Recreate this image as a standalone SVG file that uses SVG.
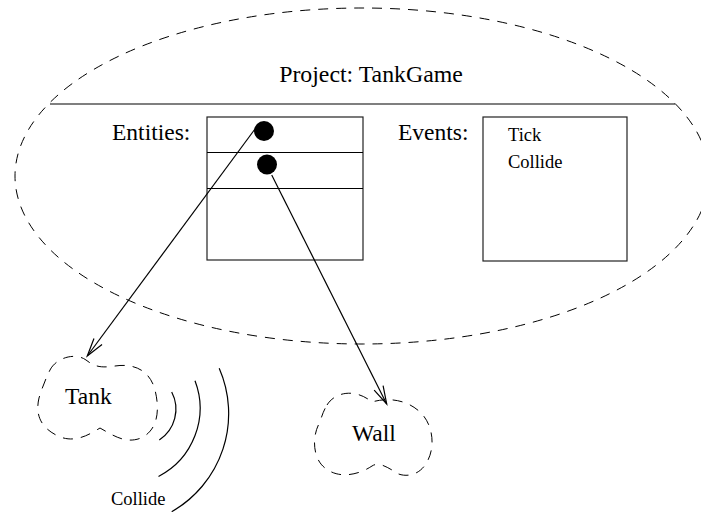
<svg xmlns="http://www.w3.org/2000/svg" width="701" height="512" viewBox="0 0 701 512">
  <style>
    .txt { font-family: "Liberation Serif", "Times New Roman", serif; fill: #000; }
    .big { font-size: 23.5px; }
    .title { font-size: 23.8px; }
    .small { font-size: 18.5px; }
    .dash { fill: none; stroke: #000; stroke-width: 1; stroke-dasharray: 10 8; }
    .box { fill: #fff; stroke: #222; stroke-width: 1.2; }
    .thin { fill: none; stroke: #000; stroke-width: 1.2; }
    .dot { fill: #000; }
  </style>
  <defs>
    <marker id="open-arrow" markerUnits="userSpaceOnUse" markerWidth="24" markerHeight="14" viewBox="-20 -7 22 14" refX="0" refY="0" orient="auto">
      <path d="M -18,-5 L 0,0 L -18,5" fill="none" stroke="#000" stroke-width="1.2"/>
    </marker>
  </defs>

  <!-- project boundary with its title -->
  <g id="project">
    <ellipse class="dash" cx="362" cy="176" rx="347" ry="168"/>
    <text class="txt title" x="371" y="82" text-anchor="middle" font-family="Liberation Serif, serif">Project: TankGame</text>
    <line class="thin" x1="50" y1="104" x2="675" y2="104"/>
  </g>

  <!-- entity list -->
  <g id="entities">
    <text class="txt big" x="112" y="140" font-family="Liberation Serif, serif">Entities:</text>
    <rect class="box" x="207" y="117" width="156" height="143"/>
    <line class="thin" x1="207" y1="152.5" x2="363" y2="152.5"/>
    <line class="thin" x1="207" y1="188.5" x2="363" y2="188.5"/>
    <circle class="dot" cx="264" cy="131" r="10"/>
    <circle class="dot" cx="267" cy="164.5" r="10"/>
  </g>

  <!-- event list -->
  <g id="events">
    <text class="txt big" x="398" y="140" font-family="Liberation Serif, serif">Events:</text>
    <rect class="box" x="483" y="117" width="144" height="144"/>
    <text class="txt small" x="508" y="141" font-family="Liberation Serif, serif">Tick</text>
    <text class="txt small" x="508" y="168" font-family="Liberation Serif, serif">Collide</text>
  </g>

  <!-- tank entity -->
  <g id="tank">
    <path class="dash" d="M 50,370 C 56,358 75,352 86,360 C 95,367 101,368 115,366 C 135,363 150,371 155,390 C 160,410 158,430 141,438 C 126,444 114,436 100,428 C 90,434 75,444 58,436 C 41,428 35,415 39,398 C 42,388 46,378 50,370 Z"/>
    <text class="txt big" x="65" y="404" font-family="Liberation Serif, serif">Tank</text>
  </g>

  <!-- wall entity -->
  <g id="wall">
    <path class="dash" d="M 327,405 C 335,392 355,388 372,402 C 385,398 405,398 420,412 C 434,425 436,450 425,465 C 418,476 402,479 392,470 C 385,466 378,462 372,466 C 360,474 340,480 325,468 C 312,458 312,435 320,422 C 322,415 324,410 327,405 Z"/>
    <text class="txt big" x="352" y="441" font-family="Liberation Serif, serif">Wall</text>
  </g>

  <!-- collide event waves -->
  <g id="collide-wave">
    <path class="thin" d="M 171.7,392 A 37 37 0 0 1 159.3,440"/>
    <path class="thin" d="M 195,380.7 A 77 77 0 0 1 158.5,476.5"/>
    <path class="thin" d="M 219.2,368.3 A 113 113 0 0 1 171.7,511.7"/>
    <text class="txt small" x="111" y="505" font-family="Liberation Serif, serif">Collide</text>
  </g>

  <!-- references from entity slots -->
  <g id="connectors">
    <line class="thin" x1="255" y1="129" x2="87.3" y2="356" marker-end="url(#open-arrow)"/>
    <line class="thin" x1="271.7" y1="175" x2="386.7" y2="404" marker-end="url(#open-arrow)"/>
  </g>
</svg>
